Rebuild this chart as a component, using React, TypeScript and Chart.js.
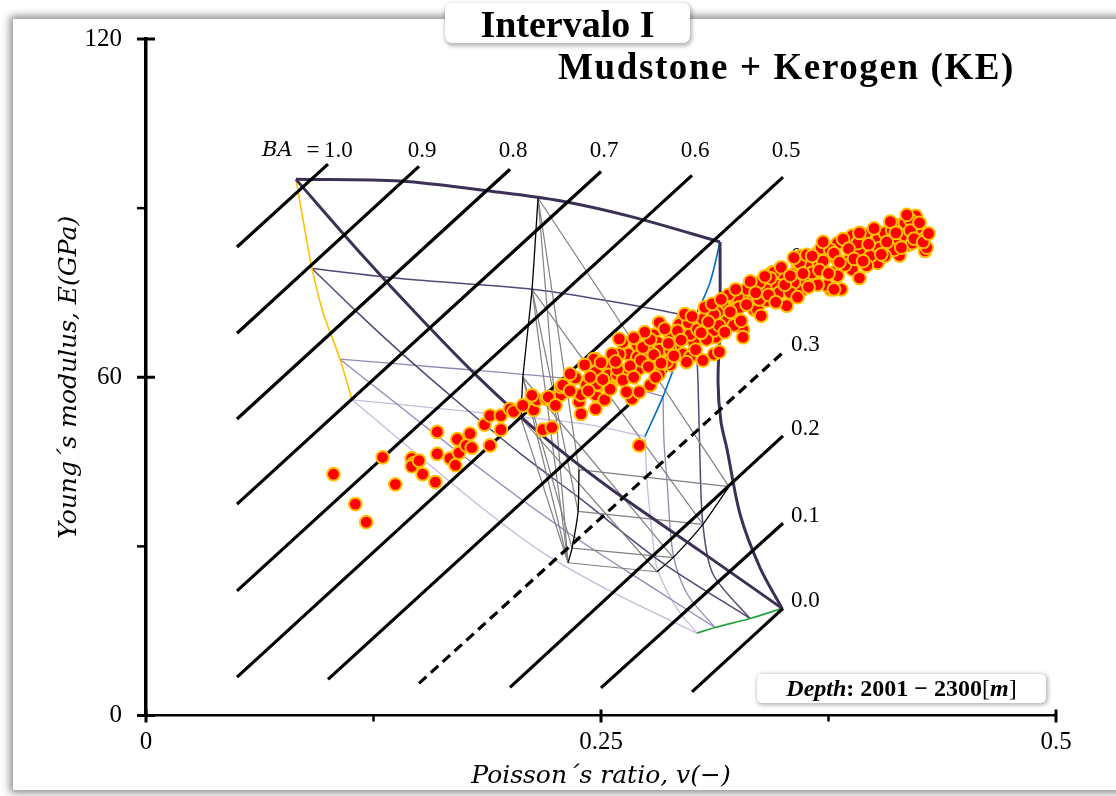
import React, { useEffect, useRef } from "react";
import { Chart, registerables } from "chart.js";

Chart.register(...registerables);

// ---------- Brittleness (BA) iso-lines ----------
const baLabels = ["1.0", "0.9", "0.8", "0.7", "0.6", "0.5", "0.4", "0.3", "0.2", "0.1", "0.0"];
const baStartV = [0.05, 0.05, 0.05, 0.05, 0.05, 0.05, 0.1, 0.15, 0.2, 0.25, 0.3];
const baStartE = [83.1, 67.8, 52.6, 37.5, 22.1, 6.8, 6.4, 5.7, 5.0, 4.9, 4.2];
const baEndV = [0.1, 0.15, 0.2, 0.25, 0.3, 0.35, 0.35, 0.35, 0.35, 0.35, 0.35];
const baEndE = [97.8, 97.4, 96.9, 96.5, 95.8, 95.5, 80.1, 64.4, 49.6, 34.1, 19.0];
const baDashed = ["0.3"];
const baTopLabelE = 100.2;

// ---------- axis ticks ----------
const xTickValues = [0, 0.125, 0.25, 0.375, 0.5];
const xTickLabels = ["0", "", "0.25", "", "0.5"];
const yTickValues = [0, 30, 60, 90, 120];
const yTickLabels = ["0", "", "60", "", "120"];

// ---------- purple template (Poisson ratio, Young modulus) ----------
const purpleRow0: [number, number][] = [[0.0824, 95.1], [0.1396, 94.8], [0.1945, 92.8], [0.2275, 91.3], [0.2676, 88.4], [0.3154, 84.0]];
const purpleDiag0: [number, number][] = [[0.0824, 95.1], [0.1176, 82.1], [0.1505, 70.6], [0.1835, 59.7], [0.2165, 50.0], [0.2549, 40.3], [0.3044, 29.2], [0.3495, 19.0]];
const purpleSide0: [number, number][] = [[0.3154, 84.0], [0.3154, 69.7], [0.3143, 59.2], [0.3159, 52.1], [0.3192, 47.3], [0.3264, 35.7], [0.3374, 26.2], [0.3495, 19.0]];

const purpleRow1: [number, number][] = [[0.0912, 79.3], [0.1396, 77.5], [0.2121, 75.6], [0.2495, 73.8], [0.2824, 71.9], [0.3016, 70.6]];
const purpleDiag1: [number, number][] = [[0.0912, 79.3], [0.1148, 71.9], [0.1396, 64.5], [0.1725, 55.3], [0.2055, 46.5], [0.2385, 38.5], [0.2824, 27.4], [0.3319, 17.2]];
const purpleSide1: [number, number][] = [[0.3016, 70.6], [0.3033, 59.2], [0.3044, 45.1], [0.306, 33.9], [0.3115, 25.1], [0.3319, 17.2]];

const purpleRow2: [number, number][] = [[0.1066, 63.2], [0.167, 61.6], [0.2275, 59.9], [0.2604, 58.6], [0.2841, 56.6]];
const purpleDiag2: [number, number][] = [[0.1066, 63.2], [0.1396, 54.8], [0.1725, 46.5], [0.2055, 38.5], [0.2385, 31.0], [0.2769, 23.0], [0.3126, 15.6]];
const purpleSide2: [number, number][] = [[0.2841, 56.6], [0.2846, 48.6], [0.2863, 41.5], [0.2896, 28.7], [0.2973, 21.6], [0.3126, 15.6]];

const purpleRow3: [number, number][] = [[0.1132, 56.0], [0.178, 53.9], [0.2385, 51.8], [0.2742, 49.5]];
const purpleDiag3: [number, number][] = [[0.1132, 56.0], [0.1505, 45.9], [0.1835, 37.1], [0.2165, 29.2], [0.2549, 22.1], [0.3027, 14.6]];
const purpleSide3: [number, number][] = [[0.2742, 49.5], [0.2753, 41.5], [0.278, 32.7], [0.2808, 26.2], [0.2907, 19.5], [0.3027, 14.6]];

const yellowEdge: [number, number][] = [[0.0824, 95.1], [0.0868, 87.0], [0.0912, 79.3], [0.0973, 71.5], [0.1066, 63.2], [0.1132, 56.0]];
const blueEdge: [number, number][] = [[0.3154, 84.0], [0.3099, 76.8], [0.3016, 70.6], [0.2934, 64.5], [0.2841, 56.6], [0.2742, 49.5]];
const greenEdge: [number, number][] = [[0.3027, 14.6], [0.3126, 15.6], [0.3319, 17.2], [0.3495, 19.0]];

// ---------- grey template nodes ----------
const grayTop: [number, number][] = [[0.2154, 91.8], [0.2121, 75.6], [0.2071, 60.0], [0.206, 52.8]];
const grayLow: [number, number][] = [[0.2379, 43.6], [0.2374, 36.2], [0.2341, 29.7], [0.2319, 27.1]];
const grayRight: [number, number][] = [[0.3203, 40.6], [0.306, 33.9], [0.2896, 28.0], [0.2808, 25.5]];

// ---------- well log points (Poisson ratio, Young modulus GPa) ----------
const logPoints: [number, number][] = [
  [0.103, 42.8], [0.115, 37.5], [0.121, 34.3], [0.130, 45.8], [0.137, 41.0], [0.146, 45.6], [0.147, 44.7], [0.146, 44.2],
  [0.150, 45.2], [0.152, 42.8], [0.159, 41.4], [0.160, 50.3], [0.160, 46.4], [0.167, 45.6], [0.170, 44.4], [0.171, 49.0],
  [0.172, 46.6], [0.176, 47.9], [0.178, 50.0], [0.179, 47.5], [0.186, 51.6], [0.189, 53.2], [0.189, 47.9], [0.195, 53.2],
  [0.195, 50.7], [0.200, 54.4], [0.202, 53.9], [0.213, 54.2], [0.215, 56.0], [0.218, 50.7], [0.223, 51.1], [0.220, 56.2],
  [0.228, 56.9], [0.229, 58.5], [0.236, 59.9], [0.238, 55.6], [0.239, 53.5], [0.242, 58.6], [0.247, 56.9], [0.247, 54.4],
  [0.248, 61.5], [0.249, 58.6], [0.252, 56.0], [0.253, 60.0], [0.271, 47.9], [0.267, 56.2], [0.277, 58.6], [0.228, 58.3],
  [0.255, 58.3], [0.247, 63.2], [0.253, 62.1], [0.247, 60.9], [0.254, 60.4], [0.248, 58.8], [0.255, 57.9], [0.265, 64.1],
  [0.270, 65.7], [0.271, 61.5], [0.277, 65.0], [0.282, 60.6], [0.284, 65.0], [0.288, 62.2], [0.291, 67.5], [0.295, 70.3],
  [0.299, 69.2], [0.295, 64.1], [0.299, 63.6], [0.306, 63.0], [0.301, 66.2], [0.308, 68.5], [0.312, 64.1], [0.314, 70.1],
  [0.317, 72.9], [0.313, 67.1], [0.319, 70.3], [0.324, 70.6], [0.328, 68.5], [0.328, 67.1], [0.323, 74.2], [0.328, 73.8],
  [0.334, 72.0], [0.330, 75.6], [0.336, 74.5], [0.341, 73.6], [0.345, 75.9], [0.344, 78.6], [0.350, 78.2], [0.352, 72.7],
  [0.357, 78.6], [0.360, 75.4], [0.358, 80.3], [0.362, 77.2], [0.368, 76.8], [0.369, 80.3], [0.369, 82.1], [0.374, 82.9],
  [0.376, 75.6], [0.380, 79.1], [0.379, 81.2], [0.423, 88.6], [0.414, 87.0], [0.426, 85.1], [0.428, 82.4], [0.419, 83.5],
  [0.413, 84.4], [0.414, 81.6], [0.395, 85.3], [0.402, 84.4], [0.392, 82.6], [0.386, 80.7], [0.402, 80.3], [0.363, 79.8],
  [0.374, 76.3], [0.382, 75.6], [0.369, 76.4], [0.221, 56.5], [0.229, 58.6], [0.239, 56.9], [0.259, 60.4], [0.263, 60.9],
  [0.275, 63.2], [0.279, 67.5], [0.281, 66.2], [0.286, 62.7], [0.288, 67.5], [0.291, 65.9], [0.293, 69.4], [0.299, 67.6],
  [0.304, 69.2], [0.312, 68.3], [0.314, 71.5], [0.323, 72.0], [0.325, 74.2], [0.334, 73.8], [0.336, 72.0], [0.341, 75.6],
  [0.345, 78.6], [0.347, 76.3], [0.315, 64.5], [0.297, 62.7], [0.360, 81.5], [0.371, 82.9], [0.380, 83.8], [0.388, 85.1],
  [0.406, 85.6], [0.410, 86.1], [0.417, 87.4], [0.420, 87.9], [0.424, 86.5], [0.429, 83.0], [0.411, 82.6], [0.406, 81.5],
  [0.398, 81.5], [0.388, 79.1], [0.396, 79.8], [0.380, 78.0], [0.392, 77.6], [0.246, 63.2], [0.259, 61.4], [0.260, 64.1],
  [0.270, 63.6], [0.273, 65.3], [0.277, 66.7], [0.282, 64.8], [0.288, 64.8], [0.298, 69.7], [0.303, 68.5], [0.306, 70.3],
  [0.308, 66.7], [0.312, 71.1], [0.315, 69.2], [0.323, 69.2], [0.326, 72.4], [0.337, 73.8], [0.343, 77.6], [0.348, 75.0],
  [0.356, 76.8], [0.359, 80.3], [0.363, 81.7], [0.372, 80.6], [0.378, 75.6], [0.376, 82.6], [0.271, 57.4], [0.280, 60.0],
  [0.384, 79.9], [0.391, 83.8], [0.403, 82.9], [0.417, 85.2], [0.421, 83.8], [0.354, 75.0], [0.366, 78.5], [0.337, 76.8],
  [0.320, 74.6], [0.307, 72.4], [0.282, 69.7], [0.274, 68.0], [0.262, 66.2], [0.256, 64.1], [0.241, 62.2], [0.233, 60.6],
  [0.258, 62.8], [0.262, 59.5], [0.266, 62.0], [0.268, 60.0], [0.272, 63.0], [0.276, 61.9], [0.279, 64.0], [0.283, 62.5],
  [0.285, 68.6], [0.287, 66.0], [0.290, 63.8], [0.292, 68.2], [0.294, 66.6], [0.296, 71.2], [0.300, 70.8], [0.302, 64.9],
  [0.305, 67.9], [0.309, 69.8], [0.311, 73.0], [0.316, 73.8], [0.318, 68.0], [0.321, 71.6], [0.324, 75.6], [0.327, 70.0],
  [0.330, 72.9], [0.332, 77.0], [0.335, 75.0], [0.338, 70.9], [0.340, 77.9], [0.342, 74.6], [0.346, 73.3], [0.349, 79.5],
  [0.351, 76.4], [0.354, 78.0], [0.356, 81.2], [0.358, 74.2], [0.361, 78.4], [0.364, 76.0], [0.366, 81.5], [0.370, 79.0],
  [0.372, 84.0], [0.375, 78.4], [0.378, 82.0], [0.381, 80.4], [0.383, 84.5], [0.386, 82.8], [0.389, 81.0], [0.392, 85.6],
  [0.394, 80.6], [0.397, 83.6], [0.400, 86.4], [0.404, 81.8], [0.407, 84.0], [0.409, 87.6], [0.412, 85.6], [0.415, 83.0],
  [0.418, 88.8], [0.420, 86.0], [0.422, 84.6], [0.425, 87.4], [0.427, 84.0], [0.430, 85.5], [0.244, 60.0], [0.250, 62.6],
  [0.251, 59.6], [0.243, 57.6], [0.233, 57.6], [0.225, 55.0], [0.207, 55.0], [0.212, 56.8], [0.260, 66.8], [0.268, 67.0],
  [0.264, 57.4],
];

const toXY = (pts: [number, number][]) => pts.map(([x, y]) => ({ x, y }));

const curve = (pts: [number, number][], color: string, width: number, extra: any = {}) => ({
  data: toXY(pts),
  showLine: true,
  borderColor: color,
  backgroundColor: color,
  borderWidth: width,
  pointRadius: 0,
  pointHoverRadius: 0,
  tension: 0.3,
  fill: false,
  ...extra,
});

function buildDatasets() {
  const ds: any[] = [];
  // scatter on top (index 0 drawn last)
  ds.push({
    data: toXY(logPoints),
    showLine: false,
    pointRadius: 6.4,
    pointHoverRadius: 6.4,
    pointBorderWidth: 2,
    backgroundColor: "#ff0000",
    borderColor: "#ffc000",
    pointBackgroundColor: "#ff0000",
    pointBorderColor: "#ffc000",
  });
  // BA lines
  baLabels.forEach((lab, i) => {
    ds.push(
      curve(
        [[baStartV[i], baStartE[i]], [baEndV[i], baEndE[i]]],
        "#000000",
        3.2,
        { tension: 0, borderDash: baDashed.includes(lab) ? [10, 6] : [] }
      )
    );
  });
  // outer purple level
  ds.push(curve(purpleRow0, "#3d3055", 3));
  ds.push(curve(purpleDiag0, "#3d3055", 3));
  ds.push(curve(purpleSide0, "#3d3055", 3));
  ds.push(curve(yellowEdge, "#ffc000", 1.6));
  ds.push(curve(blueEdge, "#0070c0", 1.6));
  ds.push(curve(greenEdge, "#22a33a", 1.6));
  // grey template black boundaries
  ds.push(curve(grayTop, "#000000", 1.3, { tension: 0.2 }));
  ds.push(curve(grayLow, "#000000", 1.3, { tension: 0.2 }));
  ds.push(curve(grayRight, "#000000", 1.3, { tension: 0.2 }));
  // grey template inner lines
  for (let k = 0; k < grayTop.length; k++) {
    ds.push(curve([grayTop[k], grayRight[k]], "#808080", 1.2, { tension: 0 }));
    ds.push(curve([grayTop[k], grayLow[k]], "#808080", 1.2, { tension: 0 }));
    ds.push(curve([grayLow[k], grayRight[k]], "#808080", 1.2, { tension: 0 }));
    if (k < grayTop.length - 1) {
      ds.push(curve([grayTop[k], grayLow[grayLow.length - 1]], "#808080", 1.2, { tension: 0 }));
    }
  }
  // inner purple levels
  ds.push(curve(purpleRow1, "#574777", 1.5));
  ds.push(curve(purpleDiag1, "#574777", 1.5));
  ds.push(curve(purpleSide1, "#574777", 1.5));
  ds.push(curve(purpleRow2, "#9486b6", 1.3));
  ds.push(curve(purpleDiag2, "#9486b6", 1.3));
  ds.push(curve(purpleSide2, "#9486b6", 1.3));
  ds.push(curve(purpleRow3, "#c6bcdc", 1.3));
  ds.push(curve(purpleDiag3, "#c6bcdc", 1.3));
  ds.push(curve(purpleSide3, "#c6bcdc", 1.3));
  return ds;
}

const baLabelPlugin = {
  id: "baLabels",
  beforeDatasetDraw(chart: any, args: any) {
    if (args.index !== 0) return;
    const { ctx } = chart;
    const xs = chart.scales.x;
    const ys = chart.scales.y;
    ctx.save();
    ctx.fillStyle = "#000";
    ctx.textBaseline = "middle";
    const numFont = '23px "Liberation Serif", serif';
    const topY = ys.getPixelForValue(baTopLabelE);
    baLabels.forEach((lab, i) => {
      const ex = xs.getPixelForValue(baEndV[i]);
      const ey = ys.getPixelForValue(baEndE[i]);
      if (baEndE[i] > 90) {
        if (i === 0) {
          ctx.font = 'italic 21px "DejaVu Serif", serif';
          ctx.textAlign = "left";
          ctx.fillText("BA", ex - 66, topY);
          ctx.font = numFont;
          ctx.textAlign = "center";
          ctx.fillText("=", ex - 15, topY);
          ctx.textAlign = "left";
          ctx.fillText(lab, ex - 4, topY);
        } else {
          ctx.font = numFont;
          ctx.textAlign = "center";
          ctx.fillText(lab, ex + 3, topY);
        }
      } else {
        ctx.font = numFont;
        ctx.textAlign = "left";
        ctx.fillText(lab, ex + 8, ey - 7);
      }
    });
    ctx.restore();
  },
};

const tickPlugin = {
  id: "axisTicks",
  afterDraw(chart: any) {
    const { ctx } = chart;
    const xs = chart.scales.x;
    const ys = chart.scales.y;
    const x0 = xs.getPixelForValue(0);
    const y0 = ys.getPixelForValue(0);
    ctx.save();
    ctx.strokeStyle = "#000";
    yTickValues.forEach((v, i) => {
      const py = ys.getPixelForValue(v);
      const major = yTickLabels[i] !== "";
      ctx.lineWidth = major ? 3 : 2.5;
      ctx.beginPath();
      ctx.moveTo(x0 - 9, py);
      ctx.lineTo(major ? x0 + 9 : x0, py);
      ctx.stroke();
    });
    xTickValues.forEach((v, i) => {
      const px = xs.getPixelForValue(v);
      const major = xTickLabels[i] !== "";
      ctx.lineWidth = major ? 3 : 2.5;
      ctx.beginPath();
      ctx.moveTo(px, major ? y0 - 6 : y0);
      ctx.lineTo(px, y0 + (major ? 7 : 6));
      ctx.stroke();
    });
    ctx.restore();
  },
};

export default function App() {
  const ref = useRef<HTMLCanvasElement>(null);

  useEffect(() => {
    const canvas = ref.current;
    if (!canvas) return;
    const chart = new Chart(canvas, {
      type: "scatter",
      data: { datasets: buildDatasets() },
      plugins: [baLabelPlugin, tickPlugin],
      options: {
        responsive: false,
        animation: false,
        events: [],
        layout: { padding: { left: 0, right: 60, top: 35, bottom: 0 } },
        plugins: { legend: { display: false }, tooltip: { enabled: false } },
        scales: {
          x: {
            type: "linear",
            position: "bottom",
            min: 0,
            max: 0.5,
            afterFit: (s: any) => {
              s.height = 80.5;
            },
            grid: { display: false, drawTicks: false },
            border: { display: true, color: "#000", width: 2.5 },
            ticks: {
              stepSize: 0.125,
              autoSkip: false,
              maxRotation: 0,
              padding: 12,
              color: "#000",
              font: { family: '"Liberation Serif", serif', size: 25 },
              callback: (value: any) => {
                const i = xTickValues.findIndex((t) => Math.abs(t - value) < 1e-9);
                return i >= 0 ? xTickLabels[i] : "";
              },
            },
            title: {
              display: true,
              text: "Poisson´s ratio, v(−)",
              color: "#000",
              font: { family: '"DejaVu Serif", serif', style: "italic", size: 25 },
              padding: { top: 0, bottom: 5 },
            },
          },
          y: {
            type: "linear",
            position: "left",
            min: 0,
            max: 120,
            afterFit: (s: any) => {
              s.width = 146;
            },
            grid: { display: false, drawTicks: false },
            border: { display: true, color: "#000", width: 3.5 },
            ticks: {
              stepSize: 30,
              autoSkip: false,
              padding: 24,
              color: "#000",
              font: { family: '"Liberation Serif", serif', size: 25 },
              callback: (value: any) => {
                const i = yTickValues.findIndex((t) => Math.abs(t - value) < 1e-9);
                return i >= 0 ? yTickLabels[i] : "";
              },
            },
            title: {
              display: true,
              text: "Young´s modulus, E(GPa)",
              color: "#000",
              font: { family: '"DejaVu Serif", serif', style: "italic", size: 25 },
              padding: { top: 54, bottom: 0 },
            },
          },
        },
      } as any,
    });
    return () => chart.destroy();
  }, []);

  return (
    <div
      style={{
        position: "fixed",
        left: 0,
        top: 0,
        width: 1116,
        height: 796,
        overflow: "hidden",
        background: "#fff",
      }}
    >
      <div
        style={{
          position: "absolute",
          left: 13,
          top: 19,
          width: 1125,
          height: 771,
          background: "#fff",
          boxShadow: "0 0 8px 3px rgba(0,0,0,0.45)",
        }}
      />
      <canvas
        ref={ref}
        width={1116}
        height={796}
        style={{ position: "absolute", left: 0, top: 0, width: 1116, height: 796 }}
      />
      <div
        style={{
          position: "absolute",
          left: 445,
          top: 3,
          width: 245,
          height: 40,
          background: "#fff",
          borderRadius: 7,
          boxShadow: "1px 2px 4px 1px rgba(0,0,0,0.3)",
          textAlign: "center",
          fontFamily: '"Liberation Serif", serif',
          fontWeight: "bold",
          fontSize: 38,
          lineHeight: "42px",
          color: "#000",
          whiteSpace: "nowrap",
        }}
      >
        Intervalo I
      </div>
      <div
        style={{
          position: "absolute",
          left: 558,
          top: 49,
          fontFamily: '"Liberation Serif", serif',
          fontWeight: "bold",
          fontSize: 37,
          lineHeight: "36px",
          letterSpacing: "1.6px",
          color: "#000",
          whiteSpace: "nowrap",
        }}
      >
        Mudstone + Kerogen (KE)
      </div>
      <div
        style={{
          position: "absolute",
          left: 757,
          top: 674,
          width: 289,
          height: 29,
          background: "#fff",
          borderRadius: 5,
          boxShadow: "1px 1px 4px 1px rgba(0,0,0,0.3)",
          textAlign: "center",
          fontFamily: '"Liberation Serif", serif',
          fontSize: 24,
          lineHeight: "29px",
          color: "#000",
          whiteSpace: "nowrap",
        }}
      >
        <b>
          <i>Depth</i>: 2001 − 2300
        </b>
        [
        <b>
          <i>m</i>
        </b>
        ]
      </div>
    </div>
  );
}
